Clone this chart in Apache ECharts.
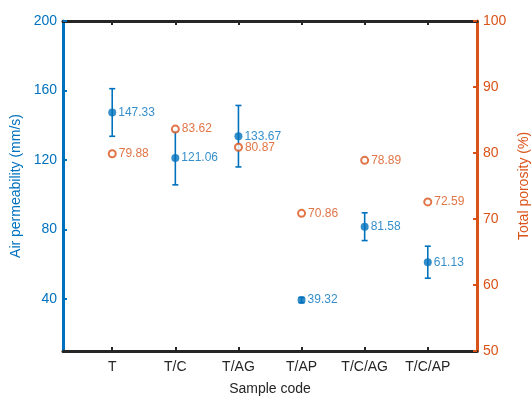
<!DOCTYPE html>
<html><head><meta charset="utf-8">
<script src="https://cdn.jsdelivr.net/npm/echarts@6/dist/echarts.min.js"></script>
<style>html,body{margin:0;padding:0;background:#fff}#c{width:531px;height:396px}</style>
</head><body><div id="c"></div>
<script>
var categories = ['T','T/C','T/AG','T/AP','T/C/AG','T/C/AP'];
var permeability = [147.33,121.06,133.67,39.32,81.58,61.13];
var permeabilityErr = [13.7,15.4,17.7,1.5,8.0,9.2];
var porosity = [79.88,83.62,80.87,70.86,78.89,72.59];
var leftTicks = [40,80,120,160,200];
var xTicks = [1,2,3,4,5,6];

var BLUE = '#0072BD', ORANGE = '#D95319', DARK = '#262626';
var FONT = '"Liberation Sans", Arial, sans-serif';

var permData = permeability.map(function(v,i){return [i+1, v];});
var porData = porosity.map(function(v,i){return [i+1, v];});
var errData = permeability.map(function(v,i){return [i+1, v-permeabilityErr[i], v+permeabilityErr[i]];});

var chart = echarts.init(document.getElementById('c'), null, {renderer:'canvas'});
chart.setOption({
  animation:false,
  textStyle:{fontFamily:FONT},
  grid:{left:63,right:54,top:21,bottom:45,outerBoundsMode:'none',containLabel:false},
  xAxis:[{
    type:'value', min:0.22, max:6.78, position:'bottom',
    name:'Sample code', nameLocation:'middle', nameGap:31,
    nameTextStyle:{color:DARK,fontSize:14,fontFamily:FONT},
    axisLine:{lineStyle:{color:DARK,width:3}},
    axisTick:{inside:true,length:4,customValues:xTicks,lineStyle:{color:DARK,width:2}},
    axisLabel:{customValues:xTicks,color:DARK,fontSize:14,fontFamily:FONT,margin:9,
      formatter:function(v){return categories[Math.round(v)-1]||'';}},
    splitLine:{show:false}
  },{
    type:'value', min:0.22, max:6.78, position:'top',
    axisLine:{lineStyle:{color:DARK,width:3}},
    axisTick:{inside:true,length:4,customValues:xTicks,lineStyle:{color:DARK,width:2}},
    axisLabel:{show:false},
    splitLine:{show:false}
  }],
  yAxis:[{
    type:'value', min:10, max:200, position:'left',
    name:'Air permeability (mm/s)', nameLocation:'middle', nameGap:36,
    nameTextStyle:{color:BLUE,fontSize:14,fontFamily:FONT},
    axisLine:{show:true,lineStyle:{color:BLUE,width:3}},
    axisTick:{show:true,inside:true,length:4,customValues:leftTicks,lineStyle:{color:BLUE,width:2}},
    axisLabel:{customValues:leftTicks,color:BLUE,fontSize:14,fontFamily:FONT,margin:6},
    splitLine:{show:false}
  },{
    type:'value', min:50, max:100, interval:10, position:'right',
    name:'Total porosity (%)', nameLocation:'middle', nameGap:33,
    nameTextStyle:{color:ORANGE,fontSize:14,fontFamily:FONT},
    axisLine:{show:true,lineStyle:{color:ORANGE,width:3}},
    axisTick:{show:true,inside:true,length:4,lineStyle:{color:ORANGE,width:2}},
    axisLabel:{color:ORANGE,fontSize:14,fontFamily:FONT,margin:6},
    splitLine:{show:false}
  }],
  series:[{
    type:'custom', xAxisIndex:0, yAxisIndex:0, data:errData, z:3,
    renderItem:function(params, api){
      var x = api.value(0);
      var lo = api.coord([x, api.value(1)]);
      var hi = api.coord([x, api.value(2)]);
      var w = 3;
      var st = {stroke:BLUE, lineWidth:1.6};
      return {type:'group', children:[
        {type:'line', shape:{x1:lo[0],y1:lo[1],x2:hi[0],y2:hi[1]}, style:st},
        {type:'line', shape:{x1:lo[0]-w,y1:lo[1],x2:lo[0]+w,y2:lo[1]}, style:st},
        {type:'line', shape:{x1:hi[0]-w,y1:hi[1],x2:hi[0]+w,y2:hi[1]}, style:st}
      ]};
    }
  },{
    type:'scatter', xAxisIndex:0, yAxisIndex:0, data:permData, z:4,
    symbol:'circle', symbolSize:8,
    itemStyle:{color:BLUE},
    label:{show:true,position:'right',distance:2,color:BLUE,fontSize:12,fontFamily:FONT,
      formatter:function(p){return p.value[1].toFixed(2);}}
  },{
    type:'scatter', xAxisIndex:0, yAxisIndex:1, data:porData, z:4,
    symbol:'circle', symbolSize:7,
    itemStyle:{color:'#fff',borderColor:ORANGE,borderWidth:2},
    label:{show:true,position:'right',distance:2,color:ORANGE,fontSize:12,fontFamily:FONT,
      formatter:function(p){return p.value[1].toFixed(2);}}
  }]
});
</script></body></html>
